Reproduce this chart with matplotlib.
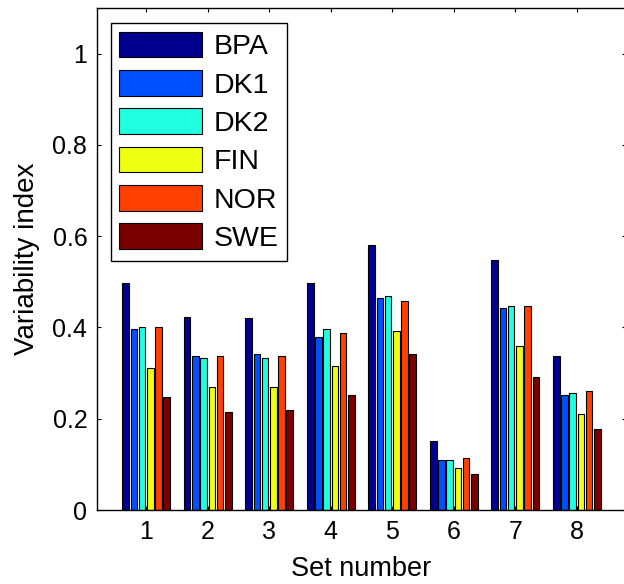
import numpy as np
import matplotlib
matplotlib.use("Agg")
import matplotlib.pyplot as plt

plt.rcParams["font.family"] = ["Liberation Sans", "DejaVu Sans"]

sets = [1, 2, 3, 4, 5, 6, 7, 8]
series_names = ["BPA", "DK1", "DK2", "FIN", "NOR", "SWE"]

bpa = [0.497, 0.424, 0.420, 0.497, 0.580, 0.152, 0.547, 0.338]
dk1 = [0.397, 0.338, 0.342, 0.379, 0.465, 0.110, 0.443, 0.251]
dk2 = [0.402, 0.333, 0.333, 0.397, 0.470, 0.110, 0.447, 0.256]
fin = [0.311, 0.270, 0.270, 0.315, 0.393, 0.092, 0.360, 0.210]
nor = [0.402, 0.338, 0.338, 0.388, 0.457, 0.115, 0.447, 0.260]
swe = [0.248, 0.215, 0.219, 0.251, 0.342, 0.078, 0.292, 0.178]

colors = ["#00008F", "#0050FF", "#20FFDF", "#EFFF10", "#FF4000", "#7A0000"]

ytick_vals = [0, 0.2, 0.4, 0.6, 0.8, 1]
ytick_labels = ["0", "0.2", "0.4", "0.6", "0.8", "1"]


def main():
    fig = plt.figure(figsize=(6.24, 5.84), dpi=100)
    ax = fig.add_axes([97 / 624, 74 / 584, 529 / 624, 502 / 584])

    x = np.array(sets, dtype=float)
    all_series = [bpa, dk1, dk2, fin, nor, swe]
    n = len(all_series)
    slot = 0.8 / n
    width = slot * 0.8
    for i, (vals, name, col) in enumerate(zip(all_series, series_names, colors)):
        offs = (i - (n - 1) / 2) * slot
        ax.bar(x + offs, vals, width=width, color=col, edgecolor="black",
               linewidth=0.8, label=name)

    ax.set_xlim(0.2, 8.8)
    ax.set_ylim(0, 1.1)
    ax.set_xticks(sets)
    ax.set_yticks(ytick_vals)
    ax.set_yticklabels(ytick_labels)
    ax.tick_params(direction="in", top=True, right=True, labelsize=18,
                   length=3, width=0.8, pad=7)
    for s in ax.spines.values():
        s.set_linewidth(1.0)

    ax.set_xlabel("Set number", fontsize=19.5, labelpad=9)
    ax.set_ylabel("Variability index", fontsize=20, labelpad=9)

    leg = ax.legend(loc="upper left", bbox_to_anchor=(0.026, 0.970),
                    borderaxespad=0, fontsize=20.5, fancybox=False,
                    edgecolor="black", framealpha=1, handlelength=2.9,
                    handleheight=1.02, labelspacing=0.34, handletextpad=0.4,
                    borderpad=0.3)
    leg.get_frame().set_linewidth(1.0)

    fig.savefig("out.png", dpi=100)


if __name__ == "__main__":
    main()
